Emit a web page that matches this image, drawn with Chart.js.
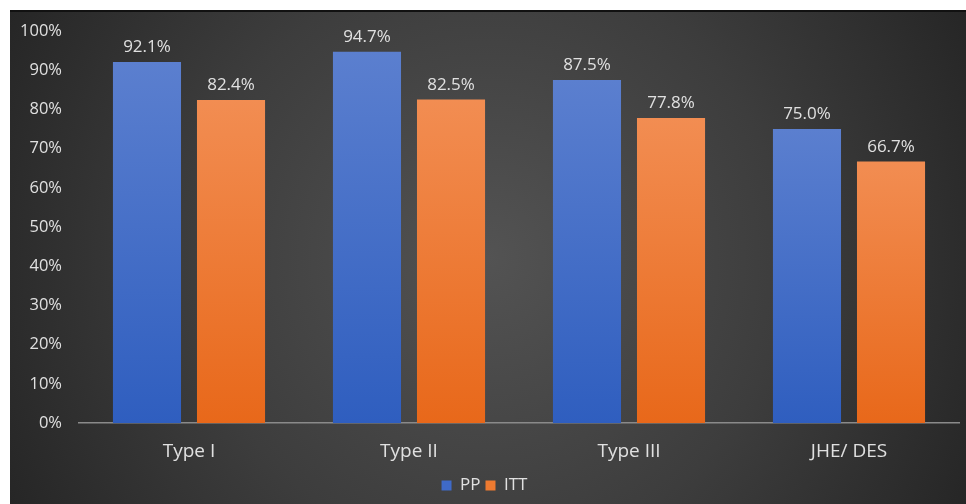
<!DOCTYPE html>
<html>
<head>
<meta charset="utf-8">
<script src="https://cdn.jsdelivr.net/npm/chart.js@4/dist/chart.umd.min.js"></script>
<style>
  html, body { margin: 0; padding: 0; background: #ffffff; }
  #wrap { position: absolute; left: 10px; top: 10px; width: 956px; height: 494px; border-top: 2px solid #111; box-sizing: border-box; }
  canvas { display: block; }
</style>
</head>
<body>
<div id="wrap"><canvas id="c"></canvas></div>
<script>
const categories = ['Type I', 'Type II', 'Type III', 'JHE/ DES'];
const ppValues = [92.1, 94.7, 87.5, 75.0];
const ittValues = [82.4, 82.5, 77.8, 66.7];
const yTicks = [0, 10, 20, 30, 40, 50, 60, 70, 80, 90, 100];

const FONT = "'Open Sans', 'Noto Sans', sans-serif";
const TEXT = '#e0e0e0';

// Vertical gradient per bar, lighter at the top
function barFill(top, bottom) {
  return function (ctx) {
    const chart = ctx.chart;
    const y = chart.scales && chart.scales.y;
    if (!chart.chartArea || !y || ctx.parsed === undefined) return bottom;
    const y0 = y.getPixelForValue(ctx.parsed.y);
    const y1 = y.getPixelForValue(0);
    const g = chart.ctx.createLinearGradient(0, y0, 0, y1);
    g.addColorStop(0, top);
    g.addColorStop(1, bottom);
    return g;
  };
}

// Dark panel with a soft radial glow in the middle
const panelBg = {
  id: 'panelBg',
  beforeDraw(chart) {
    const { ctx, width, height } = chart;
    ctx.save();
    const cx = width * 0.5, cy = height * 0.5;
    const g = ctx.createRadialGradient(cx, cy, 0, cx, cy, Math.hypot(cx, cy));
    g.addColorStop(0, '#535353');
    g.addColorStop(0.55, '#3d3d3d');
    g.addColorStop(1, '#262626');
    ctx.fillStyle = g;
    ctx.fillRect(0, 0, width, height);
    ctx.restore();
  }
};

// Value labels above each bar
const valueLabels = {
  id: 'valueLabels',
  afterDatasetsDraw(chart) {
    const { ctx } = chart;
    ctx.save();
    ctx.font = '17px ' + FONT;
    ctx.fillStyle = TEXT;
    ctx.textAlign = 'center';
    ctx.textBaseline = 'bottom';
    chart.data.datasets.forEach((ds, i) => {
      chart.getDatasetMeta(i).data.forEach((bar, j) => {
        ctx.fillText(ds.data[j].toFixed(1) + '%', bar.x, bar.y - 6);
      });
    });
    ctx.restore();
  }
};

new Chart(document.getElementById('c'), {
  type: 'bar',
  data: {
    labels: categories,
    datasets: [
      { label: 'PP', data: ppValues, backgroundColor: barFill('#5b7fcf', '#2f5ebf'),
        barPercentage: 0.81, categoryPercentage: 0.764 },
      { label: 'ITT', data: ittValues, backgroundColor: barFill('#f28d52', '#e8681a'),
        barPercentage: 0.81, categoryPercentage: 0.764 }
    ]
  },
  options: {
    responsive: true,
    maintainAspectRatio: false,
    animation: false,
    layout: { padding: { top: 2, right: 7, left: 0, bottom: 0 } },
    plugins: {
      legend: {
        position: 'bottom',
        labels: {
          color: TEXT,
          font: { family: FONT, size: 17 },
          boxWidth: 10, boxHeight: 10, padding: 5,
          generateLabels(chart) {
            const cols = ['#3f6ac8', '#ee7a30'];
            return chart.data.datasets.map((ds, i) => ({
              text: ds.label, fillStyle: cols[i], strokeStyle: cols[i], lineWidth: 0,
              fontColor: TEXT, datasetIndex: i, hidden: false
            }));
          }
        }
      },
      tooltip: { enabled: false }
    },
    scales: {
      x: {
        grid: { display: false },
        border: { display: true, color: '#8a8a8a', width: 1.5 },
        ticks: { color: TEXT, font: { family: FONT, size: 19 }, padding: 9 }
      },
      y: {
        min: 0, max: 100,
        afterFit(scale) { scale.width = 69; },
        afterBuildTicks(scale) { scale.ticks = yTicks.map(v => ({ value: v })); },
        grid: { display: false },
        border: { display: false },
        ticks: {
          color: TEXT, font: { family: FONT, size: 16.5 }, padding: 9,
          callback: v => v + '%'
        }
      }
    }
  },
  plugins: [panelBg, valueLabels]
});
</script>
</body>
</html>
